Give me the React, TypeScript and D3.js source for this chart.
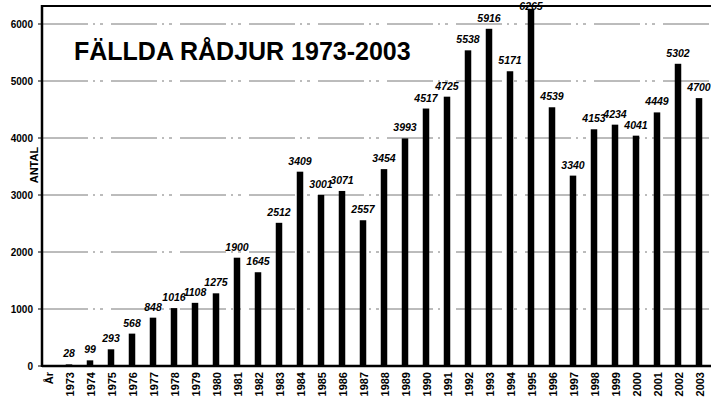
import React from "react";
import * as d3 from "d3";

const years = [
  "1973", "1974", "1975", "1976", "1977", "1978", "1979", "1980", "1981", "1982",
  "1983", "1984", "1985", "1986", "1987", "1988", "1989", "1990", "1991", "1992",
  "1993", "1994", "1995", "1996", "1997", "1998", "1999", "2000", "2001", "2002", "2003",
];
const antal = [
  28, 99, 293, 568, 848, 1016, 1108, 1275, 1900, 1645,
  2512, 3409, 3001, 3071, 2557, 3454, 3993, 4517, 4725, 5538,
  5916, 5171, 6265, 4539, 3340, 4153, 4234, 4041, 4449, 5302, 4700,
];
const yTicks = [0, 1000, 2000, 3000, 4000, 5000, 6000];
const firstLabel = "År";
const title = "FÄLLDA RÅDJUR 1973-2003";

const width = 711;
const height = 400;
const axisX = 42;
const font = "Arial, 'Liberation Sans', sans-serif";

const App = () => {
  const categories = [firstLabel, ...years];
  const x = d3.scaleBand<string>().domain(categories).range([37.5, 709.5]);
  const y = d3.scaleLinear().domain([0, 6000]).range([366, 24]);
  const topY = y(6315);
  const barW = 6.5;
  const cx = (c: string) => (x(c) ?? 0) + x.bandwidth() / 2;

  return (
    <svg
      width={width}
      height={height}
      style={{ position: "absolute", left: 0, top: 0, background: "#fff" }}
      fontFamily={font}
    >
      {/* gridlines */}
      {yTicks.slice(1).map((t) => (
        <line
          key={t}
          x1={axisX}
          x2={width}
          y1={y(t)}
          y2={y(t)}
          stroke="#555"
          strokeWidth={0.8}
          strokeDasharray="46 5 2 5 3 8"
        />
      ))}

      {/* bars */}
      {years.map((yr, i) => (
        <rect
          key={yr}
          x={cx(yr) - barW / 2}
          y={y(antal[i])}
          width={barW}
          height={y(0) - y(antal[i])}
          fill="#000"
        />
      ))}

      {/* value labels */}
      {years.map((yr, i) => (
        <text
          key={yr}
          x={cx(yr)}
          y={Math.max(y(antal[i]) - 7, 9.5)}
          textAnchor="middle"
          fontSize={10.5}
          fontWeight="bold"
          fontStyle="italic"
        >
          {antal[i]}
        </text>
      ))}

      {/* frame */}
      <line x1={axisX} x2={width} y1={topY} y2={topY} stroke="#000" strokeWidth={2} />
      <line x1={axisX} x2={axisX} y1={topY - 1} y2={y(0) + 1} stroke="#000" strokeWidth={2.5} />
      <line x1={axisX} x2={width} y1={y(0)} y2={y(0)} stroke="#000" strokeWidth={2.5} />

      {/* y ticks */}
      {yTicks.map((t) => (
        <g key={t}>
          <line x1={axisX - 4} x2={axisX} y1={y(t)} y2={y(t)} stroke="#000" strokeWidth={1} />
          <text x={33} y={y(t)} dy="0.35em" textAnchor="end" fontSize={10} fontWeight="bold">
            {t}
          </text>
        </g>
      ))}
      <text
        transform={`translate(38,${y(3525)}) rotate(-90)`}
        textAnchor="middle"
        fontSize={11}
        fontWeight="bold"
      >
        ANTAL
      </text>

      {/* x labels */}
      {categories.map((c) => (
        <text
          key={c}
          transform={`translate(${cx(c) + 4.5},372) rotate(-90)`}
          textAnchor="end"
          fontSize={11}
          fontWeight="bold"
        >
          {c}
        </text>
      ))}

      {/* title */}
      <text x={74} y={60} fontSize={25} fontWeight="bold">
        {title}
      </text>
    </svg>
  );
};

export default App;
